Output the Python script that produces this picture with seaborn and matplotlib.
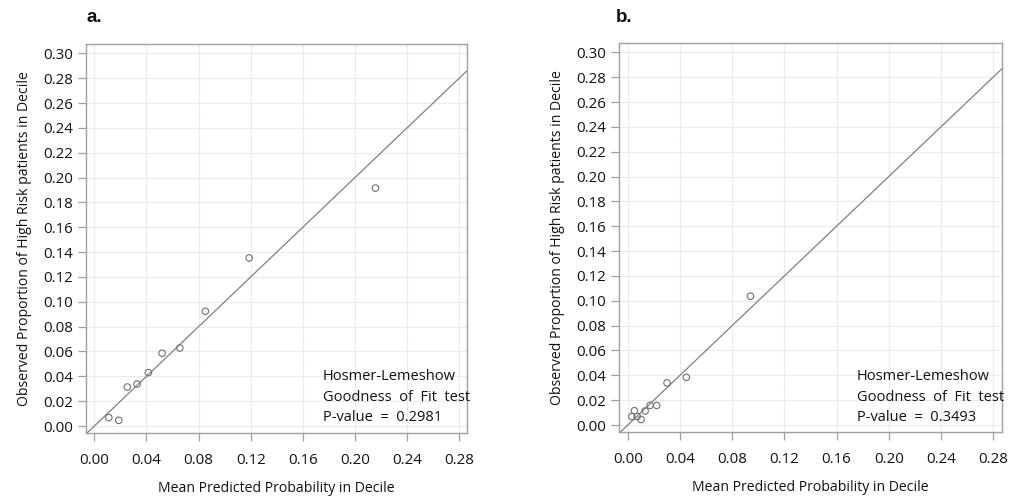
import numpy as np
import pandas as pd
import matplotlib
matplotlib.use("Agg")
import matplotlib.pyplot as plt
import seaborn as sns

# Panel a data
a_pred = [0.0111, 0.0187, 0.0253, 0.0328, 0.0415, 0.0520, 0.0656, 0.0852, 0.1188, 0.2157]
a_obs = [0.0068, 0.0046, 0.0314, 0.0338, 0.0430, 0.0586, 0.0628, 0.0924, 0.1353, 0.1915]
# Panel b data
b_pred = [0.0031, 0.0051, 0.0072, 0.0102, 0.0133, 0.0171, 0.0222, 0.0301, 0.0449, 0.0940]
b_obs = [0.0069, 0.0115, 0.0069, 0.0045, 0.0113, 0.0158, 0.0158, 0.0339, 0.0384, 0.1037]

panel_titles = ["a.", "b."]
p_values = ["0.2981", "0.3493"]
x_ticks = [0.00, 0.04, 0.08, 0.12, 0.16, 0.20, 0.24, 0.28]
y_ticks = [0.00, 0.02, 0.04, 0.06, 0.08, 0.10, 0.12, 0.14, 0.16, 0.18, 0.20, 0.22, 0.24, 0.26, 0.28, 0.30]
x_label = "Mean Predicted Probability in Decile"
y_label = "Observed Proportion of High Risk patients in Decile"
hl_lines = ["Hosmer-Lemeshow", "Goodness  of  Fit  test"]

sns.set_theme(style="whitegrid")
plt.rcParams['font.family'] = ['Open Sans', 'DejaVu Sans']

W, H = 1013, 496
fig = plt.figure(figsize=(W/100, H/100), dpi=100)
# pixel boxes: left, top, right, bottom
boxes = [(86, 44, 467, 433), (619, 43, 1002, 432)]
xlims = [(-0.0064, 0.286), (-0.0067, 0.2868)]
title_px = [(86, 18), (616, 18)]
text_x_px = [323, 857]
text_y_px = [376, 397.3, 417.7]

datasets = [(a_pred, a_obs), (b_pred, b_obs)]
for i, (pred, obs) in enumerate(datasets):
    l, t, r, b = boxes[i]
    ax = fig.add_axes([l/W, 1-b/H, (r-l)/W, (b-t)/H])
    df = pd.DataFrame({"pred": pred, "obs": obs})
    ax.axline((0, 0), slope=1, color="#808080", lw=0.9, zorder=2)
    sns.scatterplot(data=df, x="pred", y="obs", ax=ax, marker="o",
                    s=22, facecolor="none", edgecolor="#707070", linewidth=0.8, zorder=3)
    ax.set_xlim(*xlims[i])
    ax.set_ylim(-0.0056, 0.3075)
    ax.set_xticks(x_ticks)
    ax.set_yticks(y_ticks)
    ax.set_xticklabels([f"{v:.2f}" for v in x_ticks])
    ax.set_yticklabels([f"{v:.2f}" for v in y_ticks])
    ax.grid(True, color="#ebebeb", lw=0.8)
    for s in ax.spines.values():
        s.set_color("#a0a0a0")
        s.set_linewidth(1.0)
    ax.tick_params(axis="both", which="major", length=6, width=0.9, color="#a0a0a0",
                   labelsize=10.8, labelcolor="#111111", direction="out",
                   bottom=True, left=True)
    ax.tick_params(axis="x", pad=8.5)
    ax.tick_params(axis="y", pad=3.3)
    ax.set_xlabel(x_label, fontsize=10.1, color="#111111", labelpad=9)
    ax.set_ylabel(y_label, fontsize=10.1, color="#111111", labelpad=8)
    tx, ty = title_px[i]
    fig.text(tx/W, 1-ty/H, panel_titles[i], fontsize=13.5, fontweight="bold",
             family="Liberation Sans", ha="left", va="center", color="#111111")
    lines = hl_lines + [f"P-value  =  {p_values[i]}"]
    for ln, yy in zip(lines, text_y_px):
        fig.text(text_x_px[i]/W, 1-yy/H, ln, fontsize=10.5,
                 color="#111111", ha="left", va="center")

fig.savefig("out.png", dpi=100)
